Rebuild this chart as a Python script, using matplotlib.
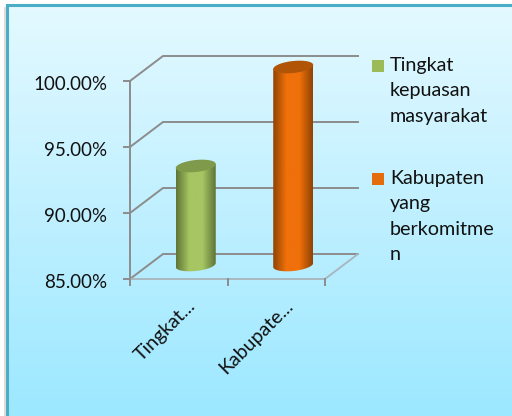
import numpy as np
import matplotlib.pyplot as plt
from matplotlib.colors import LinearSegmentedColormap
from matplotlib.patches import PathPatch, Polygon
from matplotlib.path import Path

categories = ["Tingkat...", "Kabupate..."]
values = [92.5, 100.0]
yticks = [85, 90, 95, 100]
yticklabels = ["85.00%", "90.00%", "95.00%", "100.00%"]
legend_names = ["Tingkat\nkepuasan\nmasyarakat", "Kabupaten\nyang\nberkomitme\nn"]
colors = ["#9bbb59", "#e46c0a"]
bar_cmaps = [["#5f7436", "#a6c663", "#a6c663", "#5f7436"],
             ["#8f4304", "#f0700a", "#f0700a", "#8f4304"]]
top_colors = ["#7e9a4a", "#b05506"]

plt.rcParams["font.family"] = ["Lato", "DejaVu Sans"]
W, H = 512, 416
GREY = "#8c8c8c"

fig = plt.figure(figsize=(W/100, H/100), dpi=100, facecolor="white")

# page background in pixel coordinates
bg = fig.add_axes([0, 0, 1, 1])
bg.set_xlim(0, W)
bg.set_ylim(H, 0)
bg.axis("off")
grad = LinearSegmentedColormap.from_list("bg", ["#e4f9ff", "#c0f0ff", "#9ce8ff"])
bg.imshow(np.linspace(0, 1, 256)[:, None], cmap=grad, extent=[7, W, H, 5], aspect="auto")
bg.set_xlim(0, W)
bg.set_ylim(H, 0)
bg.plot([7, 7, W], [H, 5, 5], color="#4bacc6", lw=2.2, solid_joinstyle="miter")
bg.plot([4.5, 4.5], [8, H], color="#dddddd", lw=1.5)

# front plane of the 3D chart
left, right, top, bottom = 130, 325, 81, 279
ax = fig.add_axes([left/W, 1-bottom/H, (right-left)/W, (bottom-top)/H])
ax.set_xlim(0, 2)
ax.set_ylim(85, 100)
ax.patch.set_alpha(0)
for s in ax.spines.values():
    s.set_visible(False)
ax.set_xticks([])
ax.set_yticks([])

sx = 2/(right-left)     # data units per pixel
sy = 15/(bottom-top)
dx, dy = 33*sx, 25*sy   # depth of the box

for v in yticks:
    ax.plot([0, dx, 2+dx], [v, v+dy, v+dy], color=GREY, lw=1.4, clip_on=False,
            solid_joinstyle="miter", zorder=1)
    ax.plot([-6*sx, 0], [v, v], color=GREY, lw=1.4, clip_on=False, zorder=1)
ax.plot([0, 0], [85, 100], color=GREY, lw=1.4, clip_on=False, zorder=1)
ax.plot([0, 2, 2+dx], [85, 85, 85+dy], color="#a8b8c0", lw=1.4, clip_on=False, zorder=1)
for i in range(3):
    ax.plot([i, i], [85, 85-6*sy], color=GREY, lw=1.4, clip_on=False, zorder=1)

# cylinders, the end caps lean up a little to the right
bw = 40*sx
rx, ry, tilt = bw/2, 6*sy, 2*sy
base_off = 14*sy
t = np.linspace(0, np.pi, 40)
for i, v in enumerate(values):
    cx = i + 0.5 + 16.5*sx + 0.005
    x0, x1 = cx-rx, cx+rx
    y0, y1 = 85+base_off, v+base_off
    lower = np.c_[cx-rx*np.cos(t), y0-ry*np.sin(t)-tilt*np.cos(t)]
    verts = np.vstack([lower, [[x1, y1+tilt]], [[x0, y1-tilt]], lower[:1]])
    clip = PathPatch(Path(verts, closed=True), transform=ax.transData, fc="none", ec="none")
    ax.add_patch(clip)
    cmap = LinearSegmentedColormap.from_list(f"c{i}", bar_cmaps[i])
    im = ax.imshow(np.linspace(0, 1, 128)[None, :], cmap=cmap,
                   extent=[x0, x1, y0-ry-tilt, y1+tilt], aspect="auto", zorder=3)
    im.set_clip_box(fig.bbox)
    im.set_clip_path(clip)
    th = np.linspace(0, 2*np.pi, 80)
    cap = np.c_[cx+rx*np.cos(th), y1+ry*np.sin(th)+tilt*np.cos(th)]
    ax.add_patch(Polygon(cap, fc=top_colors[i], ec="none", zorder=4, clip_on=False))
ax.set_xlim(0, 2)
ax.set_ylim(85, 100)

# tick labels
for v, lab in zip(yticks, yticklabels):
    ax.annotate(lab, (0, v), xytext=(-16.5, -2.5), textcoords="offset points", ha="right",
                va="center", fontsize=13.5, color="#111111", annotation_clip=False)
for i, lab in enumerate(categories):
    ax.annotate(lab, (i+0.5, 85), xytext=(6, -13), textcoords="offset points", ha="right",
                va="top", rotation=45, rotation_mode="anchor", fontsize=14,
                color="#111111", annotation_clip=False)

# legend
bg.set_zorder(0)
ax.set_zorder(1)
for name, c, ys in zip(legend_names, colors, [66, 179]):
    bg.add_patch(Polygon([[372, ys-6], [384, ys-6], [384, ys+6], [372, ys+6]], fc=c, ec="none"))
    bg.text(390, ys-9, name, fontsize=14.2, va="top", ha="left", color="#111111", linespacing=1.6)

fig.savefig("out.png", dpi=100)
